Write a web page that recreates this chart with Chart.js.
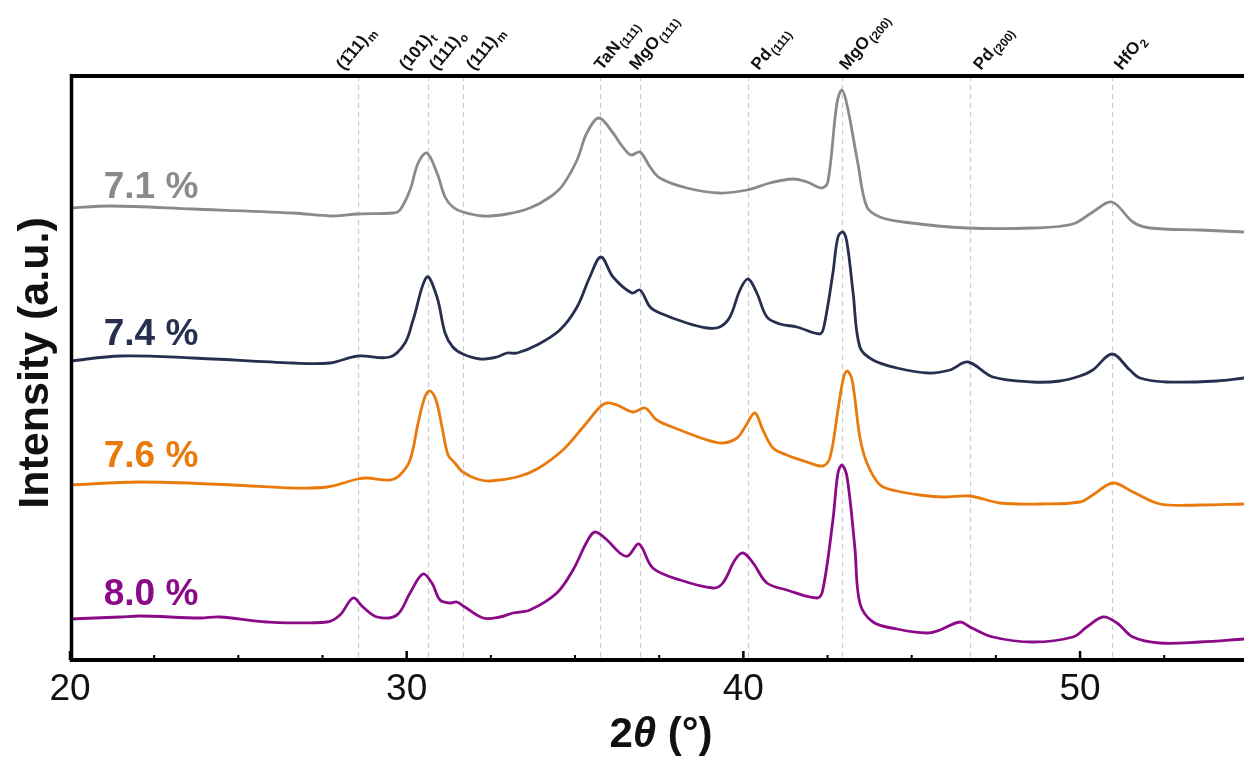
<!DOCTYPE html>
<html>
<head>
<meta charset="utf-8">
<script src="https://cdn.jsdelivr.net/npm/chart.js@4"></script>
<style>
  html, body { margin: 0; background: #fff; }
  #wrap { width: 1244px; height: 757px; position: relative; }
</style>
</head>
<body>
<div id="wrap"><canvas id="xrd"></canvas></div>
<script>
// ---- Data (2theta in degrees, intensity in a.u., offsets included) ----
const x71 = [20.00,21.19,23.65,26.62,27.81,28.55,29.59,29.80,30.10,30.34,30.60,30.90,31.14,31.37,31.67,32.27,32.98,33.66,34.26,34.64,35.06,35.35,35.71,36.13,36.33,36.57,36.69,36.93,37.23,37.52,38.32,39.30,40.11,40.79,41.47,41.89,42.33,42.51,42.78,42.93,43.08,43.40,43.67,44.06,44.74,46.64,48.60,49.79,50.38,50.95,51.57,52.08,53.56,54.87];
const y71 = [451,453,450,446,443,445,446,449,469,496,506,486,462,452,447,443,445,451,462,474,499,526,541,526,516,506,504,507,492,481,471,466,469,476,480,477,471,477,556,569,554,496,452,442,437,431,431,435,447,457,437,431,429,427];

const x74 = [20.00,21.49,23.65,26.62,27.72,28.55,29.50,29.95,30.19,30.60,30.90,31.14,31.37,31.67,32.18,32.68,32.98,33.28,33.87,34.55,35.06,35.44,35.77,36.13,36.69,36.93,37.23,37.52,38.32,38.92,39.30,39.60,39.90,40.14,40.40,40.70,41.09,41.59,42.27,42.39,42.66,42.81,42.96,43.08,43.26,43.46,43.85,44.56,45.48,46.14,46.67,47.41,48.60,49.40,50.00,50.38,50.95,51.48,51.78,52.58,54.07,54.87];
const y74 = [298,303,301,296,296,303,302,316,339,382,362,326,312,305,300,302,306,306,314,329,352,382,402,382,366,369,352,346,336,331,332,342,369,380,366,342,335,332,325,332,386,422,427,416,366,312,299,291,286,289,297,282,277,278,283,289,305,289,281,277,278,281];

const x76 = [20.00,22.08,24.84,26.62,27.63,28.55,28.82,29.50,29.80,30.10,30.34,30.54,30.69,30.87,31.05,31.23,31.43,31.67,32.09,32.47,33.28,33.87,34.64,35.24,35.74,35.95,36.25,36.72,37.08,37.43,38.12,38.92,39.39,39.81,40.05,40.34,40.58,40.88,41.29,41.89,42.36,42.57,42.81,42.96,43.08,43.23,43.46,43.67,44.06,44.56,45.24,45.93,46.73,47.62,48.81,50.00,50.38,50.98,51.57,52.37,53.56,54.87];
const y76 = [174,177,174,171,172,180,181,179,184,199,236,262,268,259,232,204,196,187,180,178,182,190,209,232,252,256,254,247,251,239,229,219,216,221,232,246,229,211,204,197,193,201,249,279,288,279,222,196,174,168,164,162,163,156,155,157,164,176,167,155,154,155];

const x80 = [20.00,21.49,22.08,23.86,24.45,25.85,27.63,28.02,28.41,28.70,29.12,29.71,30.10,30.48,30.75,30.99,31.29,31.49,31.73,32.27,32.77,33.16,33.66,34.46,34.94,35.35,35.59,35.95,36.33,36.57,36.90,37.31,38.12,39.10,39.39,39.75,39.99,40.29,40.70,41.29,42.19,42.36,42.66,42.81,42.93,43.08,43.31,43.46,43.85,44.56,45.45,45.84,46.43,46.73,47.41,48.60,49.79,50.20,50.68,51.10,51.57,52.37,53.56,54.87];
const y80 = [40,42,43,41,42,37,37,44,61,52,42,44,66,85,76,59,56,57,52,41,42,46,49,66,89,117,127,119,106,103,115,91,79,71,76,99,106,96,76,69,61,69,139,186,194,182,112,56,37,30,26,29,37,32,22,17,22,32,42,36,22,16,17,20];

const seriesNames = ['7.1 %', '7.4 %', '7.6 %', '8.0 %'];
const seriesColors = ['#8a8a8a', '#262f4f', '#ea7a0c', '#8a0a88'];
const seriesLabelX = 21.0;
const seriesLabelY = [461, 314, 192, 54];

// reference lines and the peak labels above the frame
const refLines = [28.55, 30.63, 31.67, 35.74, 36.93, 40.14, 42.93, 46.73, 50.95];
const peakNames = ['(1\u030411)', '(101)', '(111)', '(111)', 'TaN', 'MgO', 'Pd', 'MgO', 'Pd', 'HfO'];
const peakSubs = ['m', 't', 'o', 'm', '(111)', '(111)', '(111)', '(200)', '(200)', '2'];
const peakLabelX = [28.14, 30.01, 30.90, 32.00, 35.80, 36.84, 40.46, 43.08, 47.06, 51.24];

const xMin = 20, xMax = 54.87;
const majorTicks = [20, 30, 40, 50];
const minorTicks = [22.5, 25, 27.5, 32.5, 35, 37.5, 42.5, 45, 47.5, 52.5];

const FONT = "'Liberation Sans', Arial, sans-serif";

// ---- Decorations: dashed lines, frame, ticks, texts ----
const decor = {
  id: 'decor',
  beforeDatasetsDraw(chart) {
    const { ctx, chartArea: a, scales: { x } } = chart;
    ctx.save();
    ctx.strokeStyle = '#cccccc';
    ctx.lineWidth = 1.2;
    ctx.setLineDash([5, 4]);
    refLines.forEach(v => {
      const px = Math.round(x.getPixelForValue(v)) + 0.5;
      ctx.beginPath();
      ctx.moveTo(px, a.top);
      ctx.lineTo(px, a.bottom);
      ctx.stroke();
    });
    ctx.restore();
  },
  afterDraw(chart) {
    const { ctx, chartArea: a, scales: { x, y } } = chart;
    ctx.save();

    // frame (top, left, bottom)
    ctx.strokeStyle = '#000';
    ctx.lineWidth = 4;
    ctx.beginPath();
    ctx.moveTo(a.left + 1, a.top);
    ctx.lineTo(a.right + 2, a.top);
    ctx.moveTo(a.left + 1, a.bottom);
    ctx.lineTo(a.right + 2, a.bottom);
    ctx.stroke();
    ctx.lineWidth = 3.5;
    ctx.beginPath();
    ctx.moveTo(a.left + 1.5, a.top - 2);
    ctx.lineTo(a.left + 1.5, a.bottom + 2);
    ctx.stroke();

    // ticks pointing inward
    ctx.lineWidth = 2.5;
    majorTicks.forEach(v => {
      const px = x.getPixelForValue(v);
      ctx.beginPath(); ctx.moveTo(px, a.bottom); ctx.lineTo(px, a.bottom - 9); ctx.stroke();
    });
    ctx.lineWidth = 2;
    minorTicks.forEach(v => {
      const px = x.getPixelForValue(v);
      ctx.beginPath(); ctx.moveTo(px, a.bottom); ctx.lineTo(px, a.bottom - 5); ctx.stroke();
    });

    // tick labels
    ctx.fillStyle = '#111';
    ctx.font = `37px ${FONT}`;
    ctx.textAlign = 'center';
    ctx.textBaseline = 'alphabetic';
    majorTicks.forEach(v => ctx.fillText(String(v), x.getPixelForValue(v), 700));

    // x title: 2θ (°) with italic theta
    const parts = [['2', 'bold'], ['\u03b8', 'italic bold'], [' (\u00b0)', 'bold']];
    let total = 0;
    parts.forEach(p => { ctx.font = `${p[1]} 42px ${FONT}`; total += ctx.measureText(p[0]).width; });
    let cx = 661 - total / 2;
    ctx.textAlign = 'left';
    parts.forEach(p => {
      ctx.font = `${p[1]} 42px ${FONT}`;
      ctx.fillText(p[0], cx, 747);
      cx += ctx.measureText(p[0]).width;
    });

    // y title
    ctx.save();
    ctx.translate(48, 363);
    ctx.rotate(-Math.PI / 2);
    ctx.textAlign = 'center';
    ctx.font = `bold 43px ${FONT}`;
    ctx.fillText('Intensity (a.u.)', 0, 0);
    ctx.restore();

    // series labels
    ctx.font = `bold 37px ${FONT}`;
    ctx.textAlign = 'left';
    seriesNames.forEach((name, i) => {
      ctx.fillStyle = seriesColors[i];
      ctx.fillText(name, x.getPixelForValue(seriesLabelX), y.getPixelForValue(seriesLabelY[i]));
    });

    // peak labels, rotated
    ctx.fillStyle = '#111';
    peakNames.forEach((name, i) => {
      ctx.save();
      ctx.translate(x.getPixelForValue(peakLabelX[i]), a.top - 5);
      ctx.rotate(-51 * Math.PI / 180);
      ctx.font = `bold 17px ${FONT}`;
      ctx.fillText(name, 0, 0);
      const w = ctx.measureText(name).width;
      ctx.font = `bold 12px ${FONT}`;
      ctx.fillText(peakSubs[i], w + 1, 4);
      ctx.restore();
    });

    ctx.restore();
  }
};

const makeSet = (xs, ys, i) => ({
  label: seriesNames[i],
  data: xs.map((v, k) => ({ x: v, y: ys[k] })),
  borderColor: seriesColors[i],
  borderWidth: 2.8,
  pointRadius: 0,
  tension: 0.35,
  fill: false,
  clip: 3
});

new Chart(document.getElementById('xrd'), {
  type: 'line',
  data: {
    datasets: [
      makeSet(x71, y71, 0),
      makeSet(x74, y74, 1),
      makeSet(x76, y76, 2),
      makeSet(x80, y80, 3)
    ]
  },
  options: {
    responsive: true,
    maintainAspectRatio: false,
    animation: false,
    layout: { padding: { left: 70, top: 76, right: 0, bottom: 97 } },
    plugins: { legend: { display: false }, tooltip: { enabled: false } },
    scales: {
      x: { type: 'linear', min: xMin, max: xMax, display: false },
      y: { min: -1, max: 583, display: false }
    }
  },
  plugins: [decor]
});
</script>
</body>
</html>
